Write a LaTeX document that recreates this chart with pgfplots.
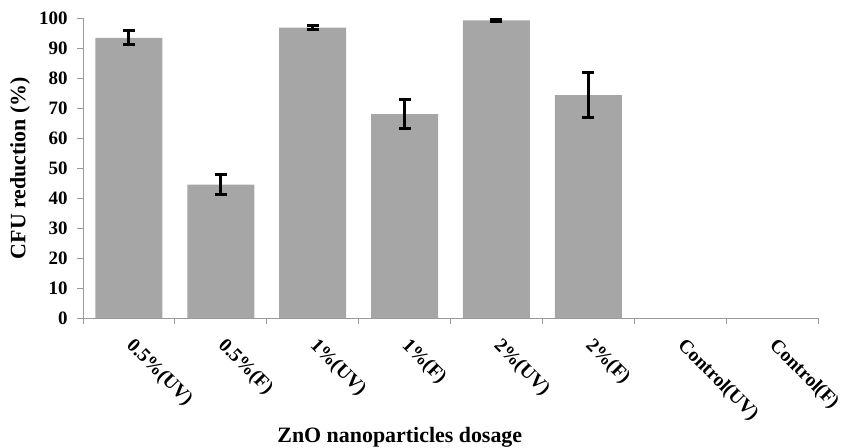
\documentclass[border=0pt]{standalone}
\usepackage{pgfplots}
\pgfplotsset{compat=1.18}
\usepackage{fontspec}
\setmainfont{Liberation Serif}
\definecolor{bargray}{HTML}{A6A6A6}
\definecolor{axgray}{HTML}{9A9A9A}
\begin{document}
\begin{tikzpicture}
\begin{axis}[
  width=735bp, height=300bp, scale only axis,
  ymin=0, ymax=100, ytick={0,10,...,100},
  xmin=-0.5, xmax=7.5,
  xtick={-0.5,0.5,...,7.5},
  x tick label as interval,
  xticklabels={0.5\%(UV),0.5\%(F),1\%(UV),1\%(F),2\%(UV),2\%(F),Control(UV),Control(F)},
  x tick label style={rotate=-45, anchor=north west, font=\fontsize{19.5}{22}\selectfont\bfseries, xshift=10bp, yshift=-1bp},
  y tick label style={font=\fontsize{19}{22}\selectfont\bfseries, xshift=-6bp},
  /pgf/number format/assume math mode=true,
  axis x line*=bottom, axis y line*=left,
  axis line style={axgray, line width=0.8pt},
  tick align=outside, tick style={axgray, line width=0.8pt},
  major tick length=6bp,
  xlabel={ZnO nanoparticles dosage},
  ylabel={CFU reduction (\%)},
  label style={font=\fontsize{22}{26}\selectfont\bfseries},
  xlabel style={at={(axis description cs:0.431,-0.397)}, anchor=center},
  ylabel style={at={(axis description cs:-0.0857,0.5)}, anchor=center},
  ybar, bar width=0.73,
]
\addplot[fill=bargray, draw=none, bar shift=0pt,
  error bars/.cd, y dir=both, y explicit,
  error bar style={line width=3bp, black},
  error mark options={rotate=90, mark size=6bp, line width=3bp, black}]
  coordinates {
  (0,93.4) +- (0,2.3)
  (1,44.5) +- (0,3.3)
  (2,96.8) +- (0,0.7)
  (3,68.0) +- (0,4.7)
  (4,99.2) +- (0,0.4)
  (5,74.3) +- (0,7.6)
  };
\addplot[fill=bargray, draw=none, bar shift=0pt]
  coordinates {(6,0) (7,0)};
\coordinate (bl) at (rel axis cs:0,0);
\coordinate (tr) at (rel axis cs:1,1);
\end{axis}
\pgfresetboundingbox
\useasboundingbox ([xshift=-83bp,yshift=-129bp]bl) rectangle ([xshift=26bp,yshift=18bp]tr);
\end{tikzpicture}
\end{document}
